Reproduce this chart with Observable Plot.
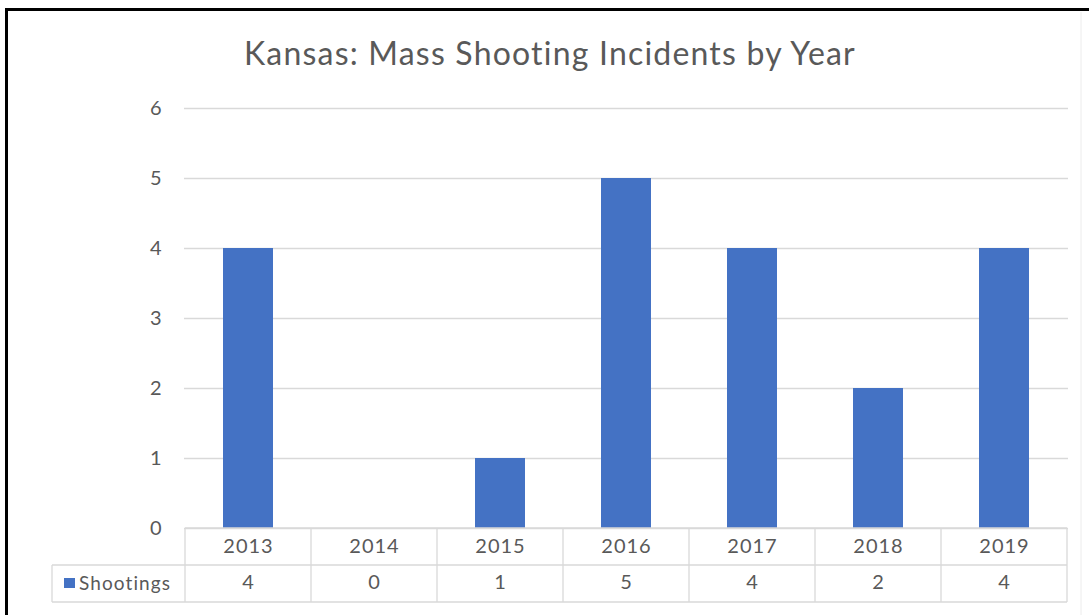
<!DOCTYPE html>
<html>
<head>
<meta charset="utf-8">
<script src="https://cdn.jsdelivr.net/npm/d3@7"></script>
<script src="https://cdn.jsdelivr.net/npm/@observablehq/plot@0.6"></script>
<style>
  html, body { margin: 0; padding: 0; background: #fff; }
  #chart { position: relative; width: 1089px; height: 615px; overflow: hidden; }
  #chart svg { position: absolute; left: 0; top: 0; }
</style>
</head>
<body>
<div id="chart"></div>
<script>
const title = "Kansas: Mass Shooting Incidents by Year";
const seriesName = "Shootings";
const years = ["2013", "2014", "2015", "2016", "2017", "2018", "2019"];
const shootings = [4, 0, 1, 5, 4, 2, 4];
const yTicks = [0, 1, 2, 3, 4, 5, 6];

const data = years.map((y, i) => ({year: y, value: shootings[i]}));
const FONT = "Lato, 'Open Sans', sans-serif";
const TXT = "#595959";
const BLUE = "#4472C4";
const LINE = "#d9d9d9";

const W = 1089, H = 615;
const plot = Plot.plot({
  width: W,
  height: H,
  marginTop: 108,
  marginBottom: 87,
  marginLeft: 184,
  marginRight: 21,
  style: {fontFamily: FONT, fontSize: "20px", color: TXT, background: "transparent", letterSpacing: "1px"},
  x: {domain: years, paddingInner: 0.6, paddingOuter: 0.3, axis: null},
  y: {domain: [0, 6], axis: null},
  marks: [
    Plot.gridY(yTicks, {stroke: LINE, strokeOpacity: 1, strokeWidth: 1.3}),
    Plot.axisY(yTicks, {tickSize: 0, tickPadding: 22, fontSize: 20, fill: TXT, label: null, tickFormat: d => String(d)}),
    Plot.barY(data, {x: "year", y: "value", fill: BLUE}),
    Plot.text(data, {x: "year", text: "year", frameAnchor: "bottom", dy: 24, fontSize: 20, fill: TXT}),
    Plot.text(data, {x: "year", text: d => String(d.value), frameAnchor: "bottom", dy: 60, fontSize: 20, fill: TXT})
  ]
});
document.getElementById("chart").appendChild(plot);

// Data-table grid drawn from Plot's own x scale
const xs = plot.scale("x");
const svg = d3.select(plot);
const step = xs.step, bw = xs.bandwidth;
const centers = years.map(y => xs.apply(y) + bw / 2);
const left = centers[0] - step / 2, right = centers[centers.length - 1] + step / 2;
const rowTop = H - 87, rowMid = rowTop + 37, rowBot = rowTop + 74;
const legendLeft = 52;
const g = svg.append("g").attr("stroke", LINE).attr("stroke-width", 1.3).attr("fill", "none");
g.append("line").attr("x1", left).attr("x2", right).attr("y1", rowTop).attr("y2", rowTop);
g.append("line").attr("x1", legendLeft).attr("x2", right).attr("y1", rowMid).attr("y2", rowMid);
g.append("line").attr("x1", legendLeft).attr("x2", right).attr("y1", rowBot).attr("y2", rowBot);
g.append("line").attr("x1", legendLeft).attr("x2", legendLeft).attr("y1", rowMid).attr("y2", rowBot);
centers.forEach(c => {
  g.append("line").attr("x1", c - step / 2).attr("x2", c - step / 2).attr("y1", rowTop).attr("y2", rowBot);
});
g.append("line").attr("x1", right).attr("x2", right).attr("y1", rowTop).attr("y2", rowBot);

// legend key in the table
svg.append("rect").attr("x", 64).attr("y", 578).attr("width", 11).attr("height", 10).attr("fill", BLUE);
svg.append("text").attr("x", 79).attr("y", 583).attr("dy", "0.35em").attr("text-anchor", "start")
  .attr("font-family", FONT).attr("font-size", 19).attr("letter-spacing", "1.1px").attr("fill", TXT).text(seriesName);

// title
svg.append("text").attr("x", 550).attr("y", 65).attr("text-anchor", "middle")
  .attr("font-family", FONT).attr("font-size", 32).attr("letter-spacing", "1.2px").attr("fill", TXT).text(title);

// frame edges (black left/top border, faint right border)
svg.append("rect").attr("x", 5).attr("y", 8).attr("width", 3).attr("height", H - 8).attr("fill", "#000");
svg.append("rect").attr("x", 5).attr("y", 8).attr("width", W - 5).attr("height", 3).attr("fill", "#000");
svg.append("line").attr("x1", 1081).attr("x2", 1081).attr("y1", 12).attr("y2", H).attr("stroke", "#ececec");
</script>
</body>
</html>
